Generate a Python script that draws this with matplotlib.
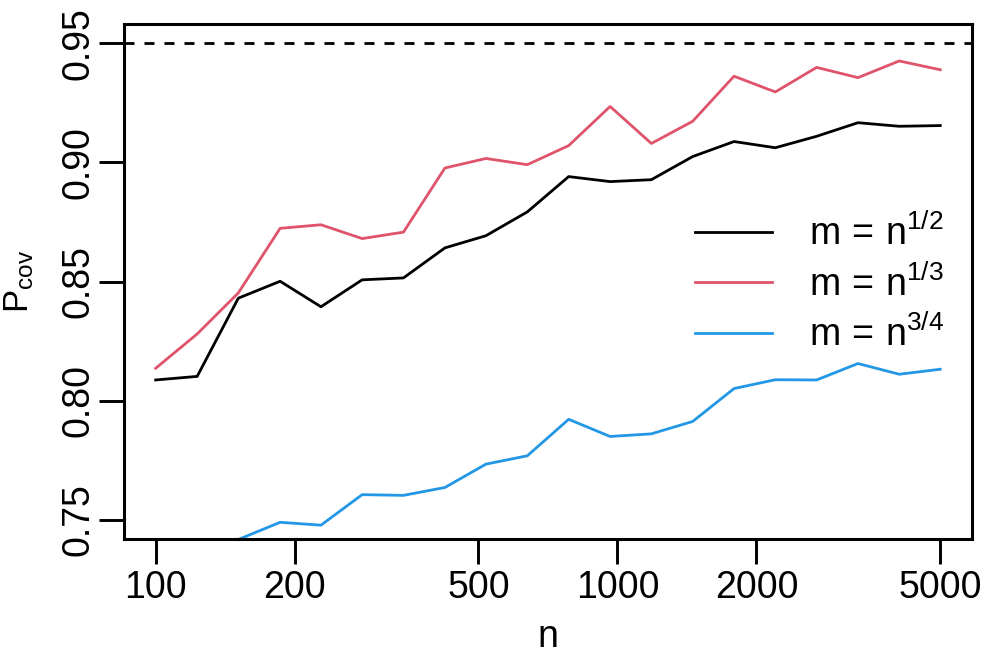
import numpy as np
import matplotlib.pyplot as plt

plt.rcParams["font.family"] = ["Liberation Sans", "DejaVu Sans"]
plt.rcParams["mathtext.fontset"] = "custom"
plt.rcParams["mathtext.rm"] = "Liberation Sans"
plt.rcParams["mathtext.it"] = "Liberation Sans"

# sample sizes (log spaced between 100 and 5000)
n = [100, 123, 151, 186, 228, 280, 344, 423, 519, 638,
     784, 964, 1184, 1455, 1788, 2197, 2699, 3317, 4075, 5000]

# coverage probability for the three block sizes
p_half = [0.8087, 0.8102, 0.8430, 0.8501, 0.8394, 0.8507, 0.8515, 0.8641, 0.8692, 0.8792,
          0.8940, 0.8919, 0.8927, 0.9024, 0.9087, 0.9061, 0.9109, 0.9166, 0.9151, 0.9154]
p_third = [0.8136, 0.8280, 0.8452, 0.8723, 0.8738, 0.8680, 0.8707, 0.8976, 0.9016, 0.8990,
           0.9070, 0.9234, 0.9079, 0.9172, 0.9361, 0.9295, 0.9398, 0.9355, 0.9425, 0.9388]
p_three_quarters = [0.7350, 0.7370, 0.7418, 0.7490, 0.7478, 0.7606, 0.7603, 0.7636, 0.7734, 0.7769,
                    0.7922, 0.7850, 0.7861, 0.7913, 0.8051, 0.8088, 0.8087, 0.8156, 0.8111, 0.8132]

labels = [r"$\mathrm{m\,=\,n^{1/2}}$", r"$\mathrm{m\,=\,n^{1/3}}$", r"$\mathrm{m\,=\,n^{3/4}}$"]
colors = ["black", "#DF536B", "#2297E6"]
nominal = 0.95

xticks = [100, 200, 500, 1000, 2000, 5000]
yticks = [0.75, 0.80, 0.85, 0.90, 0.95]

W, H = 997, 664
fig = plt.figure(figsize=(W / 100, H / 100), dpi=100)
ax = fig.add_axes([124 / W, 1 - 539 / H, 848 / W, 515 / H])

for y, c, lab in zip([p_half, p_third, p_three_quarters], colors, labels):
    ax.plot(n, y, color=c, lw=2.0, label=lab)
ax.axhline(nominal, color="black", lw=2.0, linestyle=(0, (3.6, 3.6)))

ax.set_xscale("log")
ax.set_xlim(85.4, 5857)
ax.set_ylim(0.742, 0.958)
ax.set_xticks(xticks)
ax.set_xticklabels([str(t) for t in xticks])
ax.xaxis.set_minor_locator(plt.NullLocator())
ax.set_yticks(yticks)
ax.set_yticklabels(["%.2f" % t for t in yticks], rotation=90, va="center")

for s in ax.spines.values():
    s.set_linewidth(2.2)
ax.tick_params(axis="both", length=18, width=2.1, labelsize=27)
ax.tick_params(axis="x", pad=4)
ax.tick_params(axis="y", pad=1.5)

ax.set_xlabel("n", fontsize=27)
ax.xaxis.set_label_coords(0.5, -0.155)
ax.set_ylabel(r"$\mathrm{P_{cov}}$", fontsize=25)
ax.yaxis.set_label_coords(-0.104, 0.5)

ax.legend(loc="upper left", bbox_to_anchor=(695 / W, 1 - 215 / H),
          bbox_transform=fig.transFigure, frameon=False, fontsize=27,
          handlelength=2.05, handletextpad=1.0, labelspacing=0.32,
          borderpad=0, borderaxespad=0)

fig.savefig("out.png", dpi=100)
